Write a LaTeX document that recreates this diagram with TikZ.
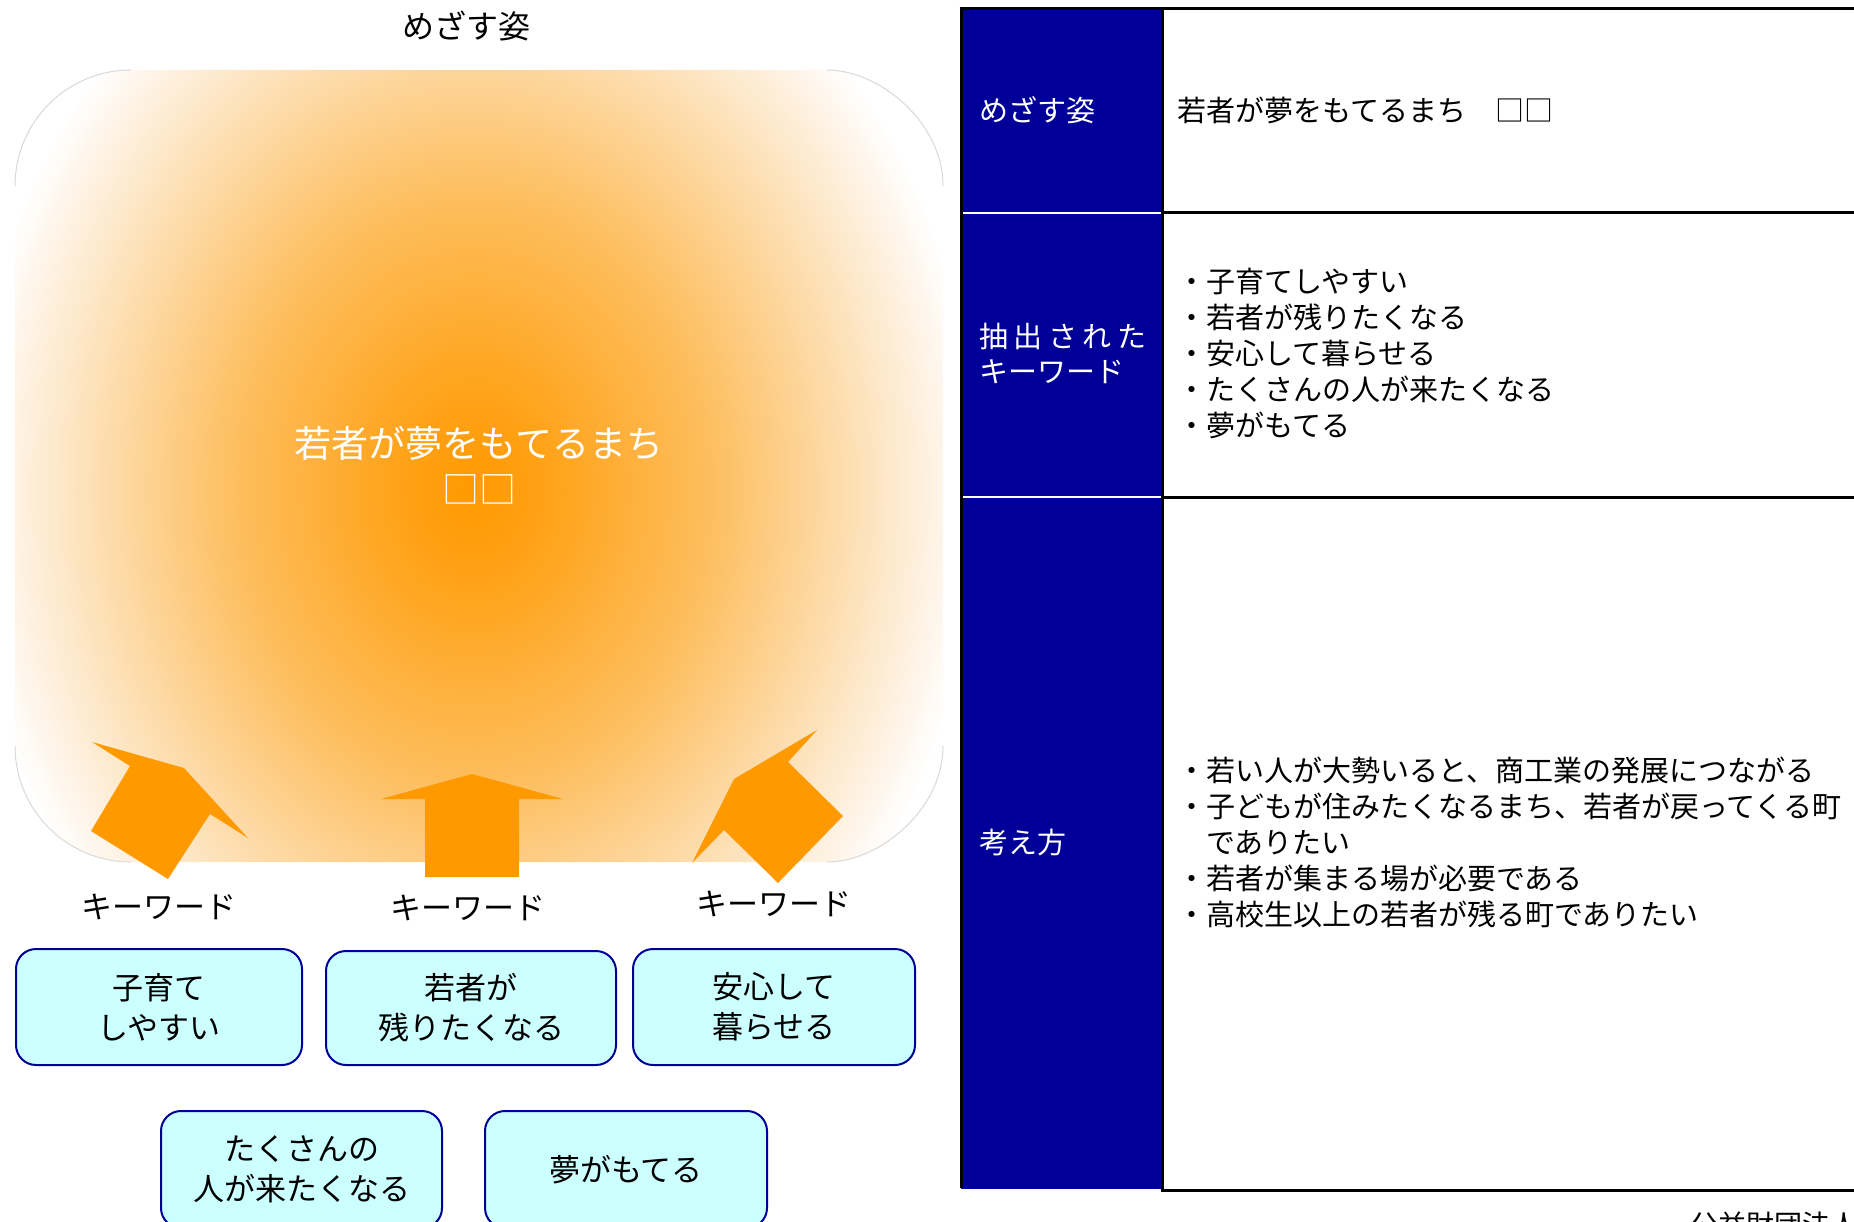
\documentclass[tikz,border=0pt]{standalone}
\usepackage{fontspec}
\setmainfont{Noto Sans CJK JP}
\newfontfamily\jp{Noto Sans CJK JP}
\definecolor{orA}{HTML}{FF9900}
\definecolor{navy}{HTML}{000099}
\definecolor{boxfill}{HTML}{CCFFFF}
\definecolor{glowa}{HTML}{FF9900}
\definecolor{glowb}{HTML}{FFA31A}
\definecolor{glowc}{HTML}{FDBE5E}
\definecolor{glowd}{HTML}{FDD59A}
\definecolor{glowe}{HTML}{FDE6C4}
\definecolor{glowf}{HTML}{FEF4E8}
\pgfdeclareradialshading{glow}{\pgfpoint{0bp}{0bp}}{color(0bp)=(glowa); color(4bp)=(glowb); color(12bp)=(glowc); color(17bp)=(glowd); color(20.5bp)=(glowe); color(23.5bp)=(glowf); color(25.5bp)=(white); color(50bp)=(white)}
\tikzset{
  kbox/.style={draw=navy, line width=2pt, fill=boxfill, rounded corners=20pt, align=center,
    font=\jp\fontsize{31}{40}\selectfont, inner sep=0pt},
  kw/.style={font=\jp\fontsize{31}{40}\selectfont, inner sep=0pt},
  hdr/.style={text=white, anchor=west, align=left, font=\jp\fontsize{29}{36}\selectfont, inner sep=0pt},
  cell/.style={text=black, anchor=west, align=left, font=\jp\fontsize{29}{36}\selectfont, inner sep=0pt},
  blockarrow/.style={fill=orA},
  rule/.style={draw=black, line width=3pt},
  cornerline/.style={draw=gray!30, line width=1pt},
}
\begin{document}
\begin{tikzpicture}[x=1pt,y=-1pt]
\useasboundingbox (0,0) rectangle (1854,1222);

% title
\node[font=\jp\fontsize{32}{40}\selectfont, inner sep=0pt] (title) at (466,26) {めざす姿};

% glow
\begin{scope}
  \clip[rounded corners=116pt] (15,70) rectangle (943,862);
  \shade[shading=glow] (-23,-125) rectangle (969,1105);
\end{scope}
\draw[cornerline] (15,186) .. controls (15,122) and (67,70) .. (131,70);
\draw[cornerline] (827,70) .. controls (879,70) and (943,122) .. (943,186);
\draw[cornerline] (15,746) .. controls (15,810) and (67,862) .. (131,862);
\draw[cornerline] (943,746) .. controls (943,810) and (879,862) .. (827,862);

\node[text=white, align=center, font=\jp\fontsize{37}{46}\selectfont, inner sep=0pt] (goal) at (479,465) {若者が夢をもてるまち\\□□};

% arrows
\fill[blockarrow] (184,768) -- (248,838) -- (210,814) -- (168,879) -- (91,831) -- (130,766) -- (92,742) -- cycle;
\fill[blockarrow] (472,774) -- (563,799) -- (519,799) -- (519,877) -- (425,877) -- (425,799) -- (381,799) -- cycle;
\fill[blockarrow] (817,730) -- (788,762) -- (843,816) -- (778,883) -- (724,830) -- (692,863) -- (734,779) -- cycle;

% keyword labels
\node[kw] (kw1) at (159,907) {キーワード};
\node[kw] (kw2) at (468,908) {キーワード};
\node[kw] (kw3) at (774,904) {キーワード};

% keyword boxes
\node[kbox, minimum width=286pt, minimum height=116pt] (b1) at (159,1007) {子育て\\しやすい};
\node[kbox, minimum width=290pt, minimum height=114pt] (b2) at (471,1008) {若者が\\残りたくなる};
\node[kbox, minimum width=282pt, minimum height=116pt] (b3) at (774,1007) {安心して\\暮らせる};
\node[kbox, minimum width=281pt, minimum height=117pt] (b4) at (301.5,1169.5) {たくさんの\\人が来たくなる};
\node[kbox, minimum width=282pt, minimum height=117pt] (b5) at (626,1169.5) {夢がもてる};

% table
\fill[navy] (961,9) rectangle (1162,1189);
\draw[white, line width=2pt] (961,213) -- (1162,213);
\draw[white, line width=2pt] (961,497) -- (1162,497);
\draw[rule] (959.5,9) -- (1860,9);
\draw[rule] (961,9) -- (961,1188);
\draw[rule] (1162,9) -- (1162,1190);
\draw[rule] (1162,213) -- (1860,213);
\draw[rule] (1162,497) -- (1860,497);
\draw[rule] (1160.5,1190) -- (1860,1190);

\node[hdr] (h1) at (979,110) {めざす姿};
\node[hdr, font=\jp\fontsize{29}{35}\selectfont] (h2) at (979,353) {抽\hspace{5.5pt}出\hspace{5.5pt}さ\hspace{5.5pt}れ\hspace{5.5pt}た\\キーワード};
\node[hdr] (h3) at (979,842) {考え方};

\node[cell] (c1) at (1177,110) {若者が夢をもてるまち　□□};
\node[cell] (c2) at (1177,353.5) {・子育てしやすい\\・若者が残りたくなる\\・安心して暮らせる\\・たくさんの人が来たくなる\\・夢がもてる};
\node[cell] (c3) at (1177,842) {・若い人が大勢いると、商工業の発展につながる\\・子どもが住みたくなるまち、若者が戻ってくる町\\　でありたい\\・若者が集まる場が必要である\\・高校生以上の若者が残る町でありたい};

\node[cell, font=\jp\fontsize{28}{34}\selectfont] (foot) at (1690,1225) {公益財団法人};
\end{tikzpicture}
\end{document}
